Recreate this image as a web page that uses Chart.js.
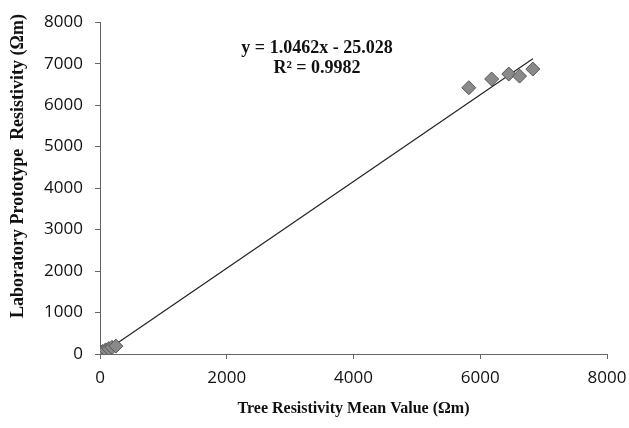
<!DOCTYPE html>
<html>
<head>
<meta charset="utf-8">
<script src="https://cdn.jsdelivr.net/npm/chart.js@4.4.0/dist/chart.umd.min.js"></script>
<style>
  html, body { margin: 0; padding: 0; background: #fff; }
  #wrap { width: 629px; height: 428px; }
</style>
</head>
<body>
<div id="wrap"><canvas id="myChart" width="629" height="428"></canvas></div>
<script>
// measured points (tree mean value vs laboratory prototype)
var treeValues = [40, 90, 140, 190, 250, 5820, 6180, 6450, 6620, 6830];
var labValues = [60, 100, 130, 160, 190, 6420, 6630, 6750, 6700, 6870];
var slope = 1.0462;
var intercept = -25.028;
var yTicks = [0, 1000, 2000, 3000, 4000, 5000, 6000, 7000, 8000];
var xTicks = [0, 2000, 4000, 6000, 8000];

var puntos = [];
for (var i = 0; i < treeValues.length; i++) {
  puntos.push({x: treeValues[i], y: labValues[i]});
}
var xMin = Math.min.apply(null, treeValues);
var xMax = Math.max.apply(null, treeValues);
var tendencia = [
  {x: xMin, y: slope * xMin + intercept},
  {x: xMax, y: slope * xMax + intercept}
];

// equation box + y title (title drawn by hand so it sits like the original)
var textosPlugin = {
  id: 'textos',
  afterDraw: function(chart) {
    var ctx = chart.ctx;
    ctx.save();
    ctx.fillStyle = '#111';
    ctx.font = 'bold 18px "Liberation Serif"';
    ctx.textAlign = 'center';
    ctx.textBaseline = 'middle';
    ctx.fillText('y = 1.0462x - 25.028', 317, 48);
    ctx.fillText('R\u00B2 = 0.9982', 317, 68);
    ctx.translate(18, 166);
    ctx.rotate(-Math.PI / 2);
    ctx.font = 'bold 18px "Liberation Serif"';
    ctx.fillText('Laboratory Prototype  Resistivity (\u03A9m)', 0, 0);
    ctx.restore();
  }
};

const ctx = document.getElementById('myChart');
const myChart = new Chart(ctx, {
  type: 'scatter',
  data: {
    datasets: [{
      label: 'Datos',
      data: puntos,
      pointStyle: 'rectRot',
      pointRadius: 7,
      pointHoverRadius: 7,
      backgroundColor: '#8a8a8a',
      borderColor: '#555',
      borderWidth: 1
    }, {
      label: 'Tendencia',
      data: tendencia,
      showLine: true,
      pointRadius: 0,
      borderColor: '#222',
      borderWidth: 1.2,
      fill: false
    }]
  },
  plugins: [textosPlugin],
  options: {
    responsive: false,
    animation: false,
    layout: { padding: { left: 4, right: 2, top: 21, bottom: 6 } },
    plugins: {
      legend: { display: false },
      tooltip: { enabled: false }
    },
    scales: {
      x: {
        type: 'linear',
        min: 0,
        max: 8000,
        afterBuildTicks: function(axis) {
          axis.ticks = xTicks.map(function(v) { return {value: v}; });
        },
        afterFit: function(axis) { axis.height = 68; axis.paddingRight = 22; },
        border: { color: '#666', width: 1 },
        grid: { display: true, drawOnChartArea: false, drawTicks: true, tickLength: 5, color: '#666' },
        ticks: {
          color: '#111', font: { family: '"Open Sans"', size: 17 }, padding: 9,
          callback: function(v) { return String(v); }
        },
        title: {
          display: true,
          text: 'Tree Resistivity Mean Value (\u03A9m)',
          color: '#111',
          font: { family: '"Liberation Serif"', size: 16, weight: 'bold' },
          padding: { top: 6 }
        }
      },
      y: {
        type: 'linear',
        min: 0,
        max: 8000,
        afterBuildTicks: function(axis) {
          axis.ticks = yTicks.map(function(v) { return {value: v}; });
        },
        afterFit: function(axis) { axis.width = 96; },
        border: { color: '#666', width: 1 },
        grid: { display: true, drawOnChartArea: false, drawTicks: true, tickLength: 5, color: '#666' },
        ticks: {
          color: '#111', font: { family: '"Open Sans"', size: 17 }, padding: 12,
          callback: function(v) { return String(v); }
        },
        title: { display: false }
      }
    }
  }
});
</script>
</body>
</html>
